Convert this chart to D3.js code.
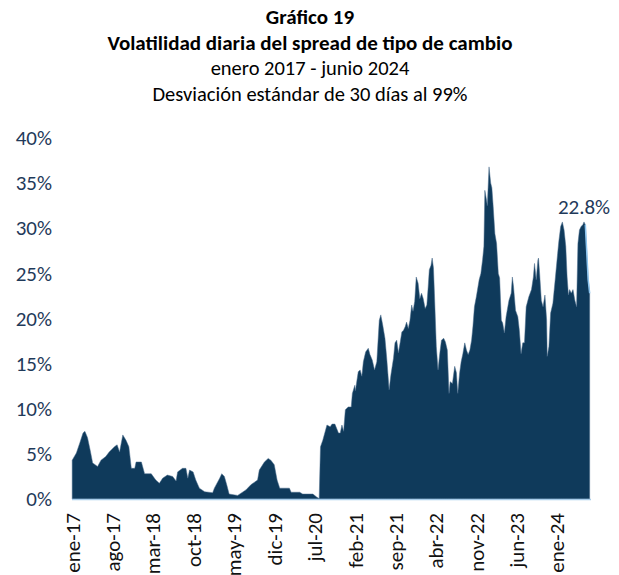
<!DOCTYPE html>
<html><head><meta charset="utf-8">
<script src="https://cdn.jsdelivr.net/npm/d3@7"></script>
<style>
body{margin:0;background:#fff}
svg{display:block}
text{font-family:Carlito,Calibri,Lato,sans-serif}
</style>
</head><body>
<svg id="c" width="619" height="575"></svg>
<script>
const titleLines = ["Gráfico 19","Volatilidad diaria del spread de tipo de cambio","enero 2017 - junio 2024","Desviación estándar de 30 días al 99%"];
const dates = ["2017-01-02","2017-01-24","2017-02-11","2017-02-28","2017-03-10","2017-03-24","2017-04-07","2017-04-20","2017-05-16","2017-06-03","2017-06-28","2017-07-16","2017-08-13","2017-08-27","2017-09-09","2017-09-26","2017-10-13","2017-10-28","2017-11-10","2017-11-28","2017-12-05","2018-01-02","2018-01-19","2018-02-23","2018-03-19","2018-04-07","2018-04-24","2018-05-19","2018-06-16","2018-07-04","2018-07-12","2018-08-07","2018-08-25","2018-09-04","2018-09-13","2018-10-02","2018-10-16","2018-11-04","2018-12-02","2019-01-13","2019-01-22","2019-02-19","2019-03-02","2019-03-16","2019-03-28","2019-04-10","2019-05-25","2019-07-07","2019-08-04","2019-09-07","2019-09-16","2019-10-13","2019-11-02","2019-11-16","2019-12-04","2019-12-19","2020-01-02","2020-02-22","2020-03-02","2020-04-16","2020-05-02","2020-06-25","2020-07-16","2020-07-28",
"2020-08-03","2020-08-04","2020-08-16","2020-09-07","2020-09-24","2020-10-04","2020-10-19","2020-11-07","2020-11-16","2020-11-25","2020-12-04","2020-12-13","2020-12-28","2021-01-13","2021-01-19","2021-02-01","2021-02-04","2021-02-19","2021-03-01","2021-03-10","2021-03-18","2021-03-30","2021-04-13","2021-04-22","2021-05-04","2021-05-16","2021-05-28","2021-06-10","2021-06-18","2021-06-28","2021-07-10","2021-07-19","2021-08-01","2021-08-10","2021-08-24","2021-09-01","2021-09-10","2021-09-19","2021-09-28","2021-10-07","2021-10-16","2021-10-25","2021-11-01","2021-11-10","2021-11-19","2021-11-28","2021-12-05","2021-12-14","2021-12-22","2022-01-01","2022-01-10","2022-01-19","2022-01-28","2022-02-07","2022-02-16","2022-02-23","2022-03-01","2022-03-10","2022-03-16","2022-03-23","2022-03-28","2022-04-07","2022-04-16","2022-04-25","2022-05-04","2022-05-16","2022-05-25","2022-06-04","2022-06-13","2022-06-19","2022-07-01","2022-07-13","2022-07-22","2022-07-29","2022-08-08","2022-08-16","2022-08-25","2022-09-04","2022-09-13","2022-09-22","2022-10-01","2022-10-10","2022-10-17","2022-10-25","2022-11-04","2022-11-19","2022-11-28","2022-12-07","2022-12-14","2022-12-19","2022-12-28","2023-01-01","2023-01-10","2023-01-19","2023-01-25","2023-02-01","2023-02-10","2023-02-19","2023-02-28","2023-03-07","2023-03-16","2023-03-23","2023-04-01","2023-04-10","2023-04-25","2023-05-07","2023-05-13","2023-05-19","2023-05-30","2023-06-11","2023-06-19","2023-06-28","2023-07-07","2023-07-16","2023-07-25","2023-08-08","2023-08-22","2023-09-01","2023-09-07","2023-09-16","2023-09-25","2023-09-28","2023-10-04","2023-10-13","2023-10-22","2023-11-01","2023-11-10","2023-11-13","2023-11-22","2023-12-01","2023-12-13","2023-12-25","2024-01-07","2024-01-13","2024-01-23","2024-02-01","2024-02-10","2024-02-19","2024-02-26","2024-03-04","2024-03-10","2024-03-19","2024-03-28","2024-04-07","2024-04-16","2024-04-23","2024-05-01","2024-05-10","2024-05-19","2024-05-25","2024-06-01","2024-06-07","2024-06-16","2024-06-24"];
const values = [4.3,5.1,6.2,7.3,7.5,6.8,5.4,4.0,3.6,4.3,4.7,5.2,5.8,6.0,5.2,7.1,6.5,5.8,3.4,3.4,4.1,4.1,2.8,2.8,2.1,1.75,2.3,2.65,2.5,2.0,3.0,3.4,3.4,2.3,3.2,3.0,2.1,1.2,0.8,0.7,1.2,2.3,2.8,2.5,1.6,0.55,0.4,1.0,1.6,2.1,3.2,4.1,4.5,4.3,3.8,2.1,1.2,1.2,0.75,0.75,0.55,0.55,0.2,0.05,
5.1,5.8,6.5,8.2,8.0,8.3,8.3,7.3,7.3,8.2,7.5,9.9,10.2,10.2,11.7,12.6,12.0,14.1,14.3,13.6,15.2,16.3,16.7,16.0,15.4,14.3,15.2,19.8,20.4,19.3,17.8,15.7,12.1,13.7,15.6,17.3,17.6,16.2,17.3,18.5,18.7,19.1,19.6,18.9,19.8,21.5,20.8,21.9,24.6,23.9,22.2,22.8,22.2,21.1,21.5,23.5,25.4,25.9,26.7,25.6,22.8,16.9,14.3,16.1,17.6,17.8,17.4,16.5,11.7,13.0,12.8,14.7,14.0,11.7,14.0,15.2,16.1,17.3,16.5,16.0,16.5,17.6,19.1,21.3,22.4,24.3,25.0,26.5,28.0,34.2,33.1,32.5,36.8,35.0,34.5,32.4,29.4,28.3,25.0,24.5,19.8,19.5,18.4,20.2,22.0,22.8,24.6,23.6,20.9,20.2,18.7,16.1,17.3,17.3,21.3,22.4,23.2,24.6,26.1,24.3,26.5,26.7,25.0,22.0,21.3,22.6,19.8,15.8,16.9,20.6,21.7,24.3,27.2,28.5,30.2,30.7,29.8,28.0,24.6,22.6,23.2,22.8,23.2,22.0,21.3,28.3,29.8,30.2,30.4,30.7,30.4,28.0,24.3,22.8];
const yTicks = [0,5,10,15,20,25,30,35,40];
const xTickDates = ["2017-01-01","2017-08-01","2018-03-01","2018-10-01","2019-05-01","2019-12-01","2020-07-01","2021-02-01","2021-09-01","2022-04-01","2022-11-01","2023-06-01","2024-01-01"];
const monthNames = ["ene","feb","mar","abr","may","jun","jul","ago","sep","oct","nov","dic"];
const lastLabel = "22.8%";

const FONT = "Carlito,Calibri,Lato,sans-serif";
const parse = d3.timeParse("%Y-%m-%d");
const data = dates.map((d,i)=>({date:parse(d), v:values[i]}));
const svg = d3.select("#c");
const x = d3.scaleTime().domain([parse("2017-01-01"), parse("2024-07-01")]).range([72, 591]);
const y = d3.scaleLinear().domain([0,40]).range([499,138]);

// titles
const tY = [24, 50, 75, 101];
const tSize = [21, 21, 20.5, 20.5];
titleLines.forEach((t,i)=>{
  svg.append("text").attr("x",310).attr("y",tY[i]).attr("text-anchor","middle")
    .attr("font-size", tSize[i]).attr("font-weight", i<2?"bold":"normal").attr("fill","#000").text(t);
});

// area
const area = d3.area().x(d=>x(d.date)).y0(y(0)).y1(d=>y(d.v)).curve(d3.curveLinear);
svg.append("path").datum(data).attr("d",area).attr("fill","#0f3a5b")
  .attr("stroke","#4a6d8c").attr("stroke-width",0.5);
// last segment highlight
const tail = data.slice(-4);
svg.append("path").datum(tail).attr("d", d3.line().x(d=>x(d.date)).y(d=>y(d.v)))
  .attr("fill","none").attr("stroke","#8cc4ee").attr("stroke-width",1.5);

// baseline
svg.append("line").attr("x1",72).attr("x2",591).attr("y1",y(0)+0.5).attr("y2",y(0)+0.5)
  .attr("stroke","#a8cdea").attr("stroke-width",1.5);

// y axis
const ya = svg.append("g").attr("transform","translate(72,0)")
  .call(d3.axisLeft(y).tickValues(yTicks).tickSize(0).tickPadding(20).tickFormat(d=>d+"%"));
ya.select(".domain").remove();
ya.selectAll("text").attr("font-size",21).attr("fill","#1f3a5a").style("font-family",FONT);

// x axis
const xa = svg.append("g").attr("transform","translate(0,"+(y(0))+")")
  .call(d3.axisBottom(x).tickValues(xTickDates.map(parse)).tickSize(0).tickPadding(0)
    .tickFormat(d=>monthNames[d.getMonth()]+"-"+String(d.getFullYear()).slice(2)));
xa.select(".domain").remove();
xa.selectAll("text").attr("font-size",21).attr("fill","#111")
  .style("font-family",FONT)
  .attr("text-anchor","end").attr("dy","0.35em").attr("y",0)
  .attr("transform","translate(0,14) rotate(-90)");

// end label
svg.append("text").attr("x", 584).attr("y", 214).attr("text-anchor","middle")
  .attr("font-size",21).attr("fill","#1f3a5a").text(lastLabel);
</script>
</body></html>
